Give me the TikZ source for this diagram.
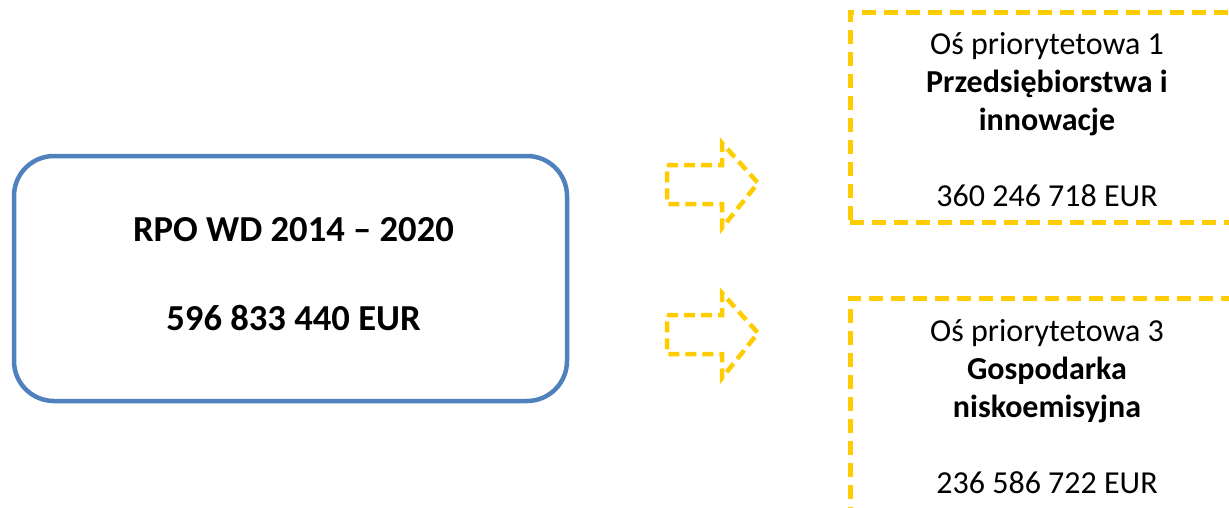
\documentclass[tikz,border=0pt]{standalone}
\usepackage{fontspec}
\setmainfont{Carlito}
\definecolor{boxblue}{HTML}{4F81BD}
\definecolor{gold}{HTML}{FFCC00}
\begin{document}
\begin{tikzpicture}[x=1pt,y=-1pt,
  mainbox/.style={draw=boxblue, line width=4.5pt, rounded corners=40pt, minimum width=553pt, minimum height=245pt, inner sep=0pt},
  axisbox/.style={draw=gold, line width=5pt, dash pattern=on 14pt off 8pt, minimum width=392pt, inner sep=0pt},
  bigtxt/.style={font=\fontsize{36.6}{44}\selectfont\bfseries, anchor=base, inner sep=0pt},
  txt/.style={font=\fontsize{32}{38}\selectfont, anchor=base, inner sep=0pt},
  btxt/.style={font=\fontsize{32}{38}\selectfont\bfseries, anchor=base, inner sep=0pt},
  arrowdash/.style={draw=gold, line width=4.5pt, dash pattern=on 11pt off 6pt}
]
\useasboundingbox (0,0) rectangle (1229,507);
\clip (0,0) rectangle (1229,507);
% main box
\node[mainbox] (rpo) at (290.5,278.5) {};
\node[bigtxt] (rpo1) at (293.5,241) {RPO WD 2014 – 2020};
\node[bigtxt] (rpo2) at (293.5,330) {596 833 440 EUR};
% axis 1
\node[axisbox, minimum height=210pt] (ax1) at (1046,117) {};
\node[txt]  (ax1a) at (1047,54)  {Oś priorytetowa 1};
\node[btxt] (ax1b) at (1047,92)  {Przedsiębiorstwa i};
\node[btxt] (ax1c) at (1047,130) {innowacje};
\node[txt]  (ax1d) at (1047,206) {360 246 718 EUR};
% axis 3
\node[axisbox, minimum height=217pt] (ax3) at (1046,406.5) {};
\node[txt]  (ax3a) at (1047,341) {Oś priorytetowa 3};
\node[btxt] (ax3b) at (1047,379) {Gospodarka};
\node[btxt] (ax3c) at (1047,417) {niskoemisyjna};
\node[txt]  (ax3d) at (1047,493) {236 586 722 EUR};
% dashed block arrows
\draw[arrowdash] (667,165) -- (722,165) -- (722,143) -- (758,183) -- (722,228) -- (722,204) -- (667,204) -- cycle;
\draw[arrowdash] (667,315) -- (722,315) -- (722,293) -- (758,333) -- (722,378) -- (722,354) -- (667,354) -- cycle;
\end{tikzpicture}
\end{document}
